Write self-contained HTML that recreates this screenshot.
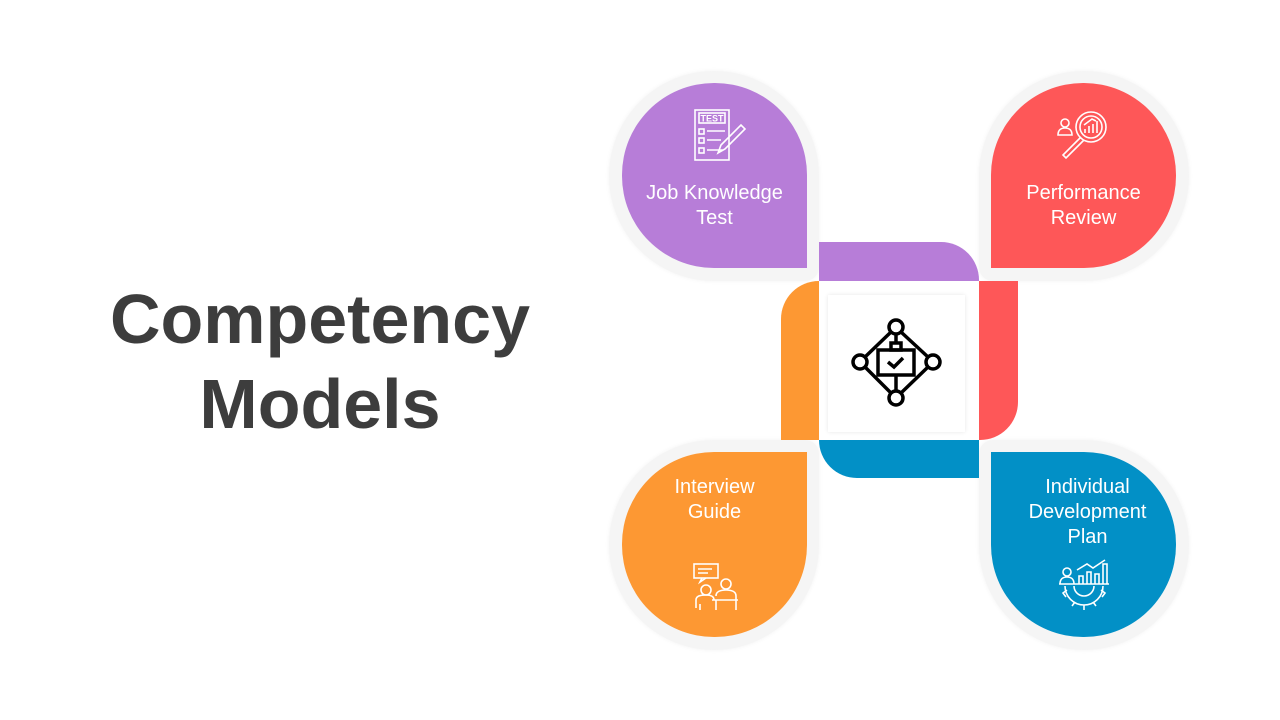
<!DOCTYPE html>
<html><head><meta charset="utf-8"><style>
*{margin:0;padding:0;box-sizing:border-box}
body{width:1280px;height:720px;background:#fff;position:relative;overflow:hidden;font-family:"Liberation Sans",sans-serif}
.t{position:absolute;left:60px;width:520px;text-align:center;font-weight:bold;font-size:70px;color:#3d3d3d;line-height:85px;top:277px}
.ring{position:absolute;width:210px;height:210px;background:#f5f5f5;box-shadow:0 0 5px rgba(0,0,0,.05)}
.p{position:absolute;width:185px;height:185px;color:#fff;text-align:center;font-size:20px;line-height:25px}
.b{position:absolute}
.lab{position:absolute;left:0;width:100%}
svg{position:absolute}
</style></head><body>
<div class="t">Competency<br>Models</div>

<div class="ring" style="left:609px;top:71px;border-radius:105px 105px 14px 105px"></div>
<div class="ring" style="left:979px;top:71px;border-radius:105px 105px 105px 14px"></div>
<div class="ring" style="left:609px;top:440px;border-radius:105px 14px 105px 105px"></div>
<div class="ring" style="left:979px;top:440px;border-radius:14px 105px 105px 105px"></div>

<div class="b" style="left:819px;top:242px;width:160px;height:39px;background:#b77dd8;border-radius:0 38px 0 0"></div>
<div class="b" style="left:979px;top:281px;width:39px;height:159px;background:#fe5758;border-radius:0 0 38px 0"></div>
<div class="b" style="left:819px;top:440px;width:160px;height:38px;background:#0290c6;border-radius:0 0 0 38px"></div>
<div class="b" style="left:781px;top:281px;width:38px;height:159px;background:#fd9833;border-radius:38px 0 0 0"></div>
<div class="b" style="left:828px;top:295px;width:137px;height:137px;background:#fff;box-shadow:0 0 4px rgba(0,0,0,.1)"></div>
<svg style="left:850px;top:318px" width="92" height="92" viewBox="0 0 92 92" fill="none" stroke="#000" stroke-width="3.5">
<circle cx="46" cy="9" r="7"/><circle cx="46" cy="80" r="7"/><circle cx="10" cy="44" r="7"/><circle cx="83" cy="44" r="7"/>
<path d="M41 14L15 39M51 14L78 39M15 49L41 75M78 49L51 75M46 16V25M46 57V73"/>
<rect x="41" y="25" width="10" height="7"/><rect x="28" y="32" width="36" height="25"/><path d="M38 44l6 5 9-9"/>
</svg>

<div class="p" style="left:622px;top:83px;background:#b77dd8;border-radius:92px 92px 0 92px">
<svg style="left:71px;top:25px" width="54" height="54" viewBox="0 0 54 54" fill="none" stroke="#fff" stroke-width="1.6"><rect x="2" y="2" width="34" height="50"/><rect x="6" y="5" width="26" height="10"/><text x="19" y="13.5" fill="#fff" stroke="none" font-size="9" font-weight="bold" text-anchor="middle">TEST</text><rect x="6" y="21" width="5" height="5"/><rect x="6" y="30" width="5" height="5"/><rect x="6" y="40" width="5" height="5"/><path d="M14 23h18M14 32h14M14 42h16M25 45l3-8 20-20 4 4-20 20z"/></svg>
<div class="lab" style="top:98px">Job Knowledge<br>Test</div></div>

<div class="p" style="left:991px;top:83px;background:#fe5758;border-radius:92px 92px 92px 0">
<svg style="left:64px;top:26px" width="58" height="52" viewBox="0 0 58 52" fill="none" stroke="#fff" stroke-width="1.6"><circle cx="36" cy="18" r="15"/><circle cx="36" cy="18" r="11"/><path d="M30 24v-4M34 24v-7M38 24v-9M42 24v-12M29 16l8-6 4 2"/><path d="M26 28L8 46l3 3 18-18"/><circle cx="10" cy="14" r="4"/><path d="M3 26c0-5 3-7 7-7s7 2 7 7z"/></svg>
<div class="lab" style="top:98px">Performance<br>Review</div></div>

<div class="p" style="left:622px;top:452px;background:#fd9833;border-radius:92px 0 92px 92px">
<div class="lab" style="top:23px">Interview<br>Guide</div>
<svg style="left:70px;top:110px" width="48" height="50" viewBox="0 0 48 50" fill="none" stroke="#fff" stroke-width="1.6"><rect x="2" y="2" width="24" height="14"/><path d="M6 7h14M6 11h10M10 16l-2 4 6-4"/><circle cx="14" cy="28" r="5"/><circle cx="34" cy="22" r="5"/><path d="M4 46V38c0-4 4-5 10-5s8 2 8 5M24 34c0-4 4-6 10-6s10 2 10 6v4M20 38h26M24 38v10M44 38v10M8 42v6"/></svg></div>

<div class="p" style="left:991px;top:452px;background:#0290c6;border-radius:0 92px 92px 92px">
<div class="lab" style="top:23px;left:4px">Individual<br>Development<br>Plan</div>
<svg style="left:66px;top:106px" width="54" height="54" viewBox="0 0 54 54" fill="none" stroke="#fff" stroke-width="1.6"><circle cx="10" cy="14" r="4"/><path d="M3 26c0-5 3-7 7-7s7 2 7 7zM22 26v-8h4v8M30 26v-12h4v12M38 26v-10h4v10M46 26V6h4v20M20 12l10-6 6 4 12-8M2 26h50M8 28a19 19 0 0 0 38 0M10 32l-4 3 3 4M44 32l4 3-3 4M27 47v5M18 44l-3 4M36 44l3 4M17 28a10 10 0 0 0 20 0"/></svg></div>
</body></html>
